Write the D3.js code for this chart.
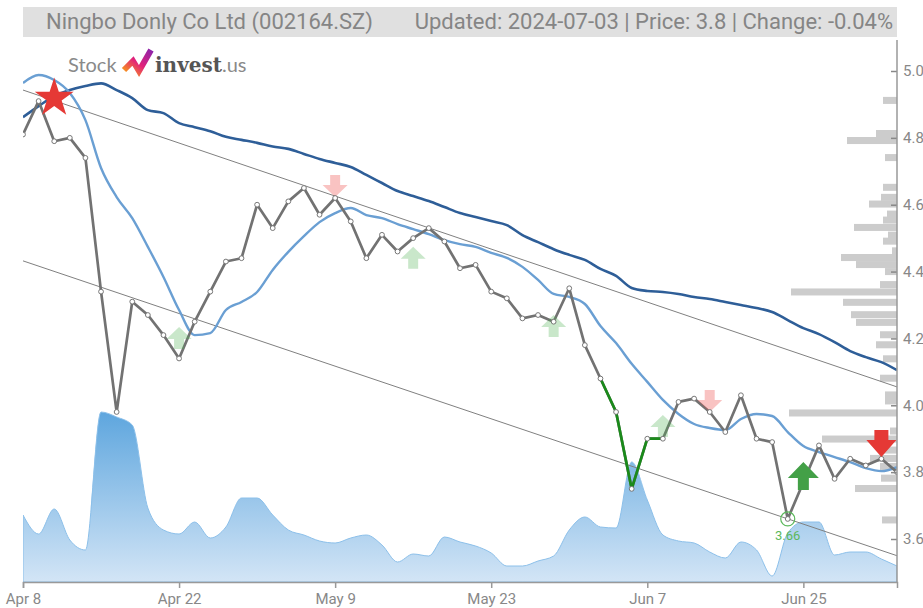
<!DOCTYPE html>
<html><head><meta charset="utf-8">
<script src="https://cdn.jsdelivr.net/npm/d3@7/dist/d3.min.js"></script>
<style>body{margin:0;background:#fff;} svg{display:block;}</style>
</head><body><svg id="c" width="923" height="608"></svg>
<script>
// ---------- DATA ----------
const dates = ["2024-04-08","2024-04-09","2024-04-10","2024-04-11","2024-04-12","2024-04-15","2024-04-16","2024-04-17","2024-04-18","2024-04-19",
"2024-04-22","2024-04-23","2024-04-24","2024-04-25","2024-04-26","2024-04-29","2024-04-30","2024-05-06","2024-05-07","2024-05-08",
"2024-05-09","2024-05-10","2024-05-13","2024-05-14","2024-05-15","2024-05-16","2024-05-17","2024-05-20","2024-05-21","2024-05-22",
"2024-05-23","2024-05-24","2024-05-27","2024-05-28","2024-05-29","2024-05-30","2024-05-31","2024-06-03","2024-06-04","2024-06-05",
"2024-06-07","2024-06-11","2024-06-12","2024-06-13","2024-06-14","2024-06-17","2024-06-18","2024-06-19","2024-06-20","2024-06-21",
"2024-06-25","2024-06-26","2024-06-27","2024-06-28","2024-07-01","2024-07-02","2024-07-03"];
const prices = [4.81,4.91,4.79,4.80,4.74,4.34,3.98,4.31,4.27,4.21,
4.14,4.25,4.34,4.43,4.44,4.60,4.53,4.61,4.65,4.57,
4.62,4.55,4.44,4.51,4.46,4.50,4.53,4.49,4.41,4.42,
4.34,4.32,4.26,4.27,4.25,4.35,4.18,4.08,3.98,3.75,
3.90,3.90,4.01,4.02,3.98,3.92,4.03,3.90,3.89,3.66,
3.77,3.88,3.78,3.84,3.82,3.84,3.80];
const maShort = [4.964,4.988,4.973,4.934,4.853,4.71,4.623,4.56,4.474,4.384,
4.285,4.21,4.216,4.285,4.309,4.339,4.405,4.459,4.506,4.548,
4.575,4.59,4.569,4.56,4.542,4.527,4.512,4.494,4.482,4.474,
4.456,4.441,4.414,4.375,4.333,4.324,4.303,4.237,4.186,4.124,
4.07,4.016,3.974,3.944,3.932,3.926,3.959,3.974,3.968,3.92,
3.878,3.86,3.845,3.83,3.812,3.803,3.815];
const maLong = [4.862,4.895,4.925,4.943,4.955,4.963,4.943,4.919,4.883,4.874,
4.844,4.832,4.82,4.803,4.794,4.785,4.774,4.767,4.752,4.737,
4.725,4.713,4.689,4.665,4.641,4.626,4.611,4.593,4.575,4.563,
4.551,4.539,4.509,4.488,4.467,4.45,4.435,4.408,4.387,4.351,
4.342,4.339,4.333,4.324,4.318,4.309,4.30,4.291,4.279,4.255,
4.231,4.213,4.189,4.162,4.144,4.129,4.105];
const volumes = [67,48,73,42,32,170,165,157,74,52,
48,60,44,55,84,84,67,52,47,41,
39,44,47,37,20,28,26,45,40,36,
29,16,16,21,26,52,65,55,54,120,
82,47,41,39,30,24,40,32,6,49,
60,60,27,30,30,23,16];
const tickDates = ["2024-04-08","2024-04-22","2024-05-09","2024-05-23","2024-06-07","2024-06-25"];
const priceTicks = [3.6,3.8,4.0,4.2,4.4,4.6,4.8,5.0];
const profilePrices = [4.912,4.813,4.792,4.741,4.652,4.622,4.602,4.572,4.554,4.532,4.509,4.491,4.462,4.442,4.421,4.400,
4.361,4.339,4.308,4.271,4.248,4.211,4.181,4.139,4.081,4.031,4.013,3.977,3.923,3.899,3.866,3.841,3.817,3.782,3.751,3.657];
const profileVolumes = [14,21,50,12,14,16,28,10,14,43,9,14,5,56,41,12,
17,106,54,46,41,17,21,14,17,12,12,108,7,75,17,27,17,16,42,15];
const trendUpper = [4.943, 4.055];
const trendLower = [4.432, 3.55];
const greenRun = [37, 41];
const buyWeakIdx = [10,25,34,41], buyWeakTip = [4.234,4.474,4.27,3.971];
const sellWeakIdx = [20,44], sellWeakTip = [4.623,3.98];
const buyStrongIdx = [50], buyStrongTip = [3.83];
const sellStrongIdx = [55], sellStrongTip = [3.845];
const starIdx = 2, starPrice = 4.922;
const lowIdx = 49, lowLabel = "3.66";
const title = "Ningbo Donly Co Ltd (002164.SZ)";
const info = "Updated: 2024-07-03 | Price: 3.8 | Change: -0.04%";

// ---------- SCALES ----------
const L = 23, R = 897, T = 40, B = 582;
const svg = d3.select("#c");
const x = d3.scalePoint().domain(dates).range([L, R]);
const y = d3.scaleLinear().domain([3.6, 5.0]).range([539, 71]);
const vy = d3.scaleLinear().domain([0, 175]).range([B, B - 175]);
const px = d3.scaleLinear().domain([0, 110]).range([R, R - 110]);

const defs = svg.append("defs");
defs.append("clipPath").attr("id","clip").append("rect").attr("x",L).attr("y",T).attr("width",R-L).attr("height",B-T);
const g1 = defs.append("linearGradient").attr("id","vg").attr("x1",0).attr("y1",0).attr("x2",0).attr("y2",1);
g1.append("stop").attr("offset","0%").attr("stop-color","#5ea6de");
g1.append("stop").attr("offset","100%").attr("stop-color","#d3e5f6");
const g2 = defs.append("linearGradient").attr("id","lg").attr("x1",0).attr("y1",1).attr("x2",1).attr("y2",0);
g2.append("stop").attr("offset","0%").attr("stop-color","#f7941d");
g2.append("stop").attr("offset","45%").attr("stop-color","#e2227a");
g2.append("stop").attr("offset","100%").attr("stop-color","#8e24aa");

// header
svg.append("rect").attr("x",23).attr("y",7).attr("width",874).attr("height",30).attr("fill","#e0e0e0");
svg.append("text").attr("x",46).attr("y",29).attr("font-family","Roboto, Arial, sans-serif").attr("font-size",22)
  .attr("fill","#858585").text(title);
svg.append("text").attr("x",893).attr("y",29).attr("text-anchor","end").attr("font-family","Roboto, Arial, sans-serif").attr("font-size",22)
  .attr("fill","#858585").text(info);

const plot = svg.append("g").attr("clip-path","url(#clip)");

// volume area
plot.append("path").datum(volumes)
  .attr("d", d3.area().x((d,i)=>x(dates[i])).y0(B).y1(d=>vy(d)).curve(d3.curveMonotoneX))
  .attr("fill","url(#vg)").attr("stroke","#8cc0ea").attr("stroke-width",1);

// volume profile
plot.selectAll("rect.vp").data(profilePrices).join("rect").attr("class","vp")
  .attr("x",(d,i)=>px(profileVolumes[i])).attr("width",(d,i)=>R-px(profileVolumes[i]))
  .attr("y",d=>y(d+0.0105)).attr("height",d=>y(d-0.0105)-y(d+0.0105))
  .attr("fill","#cccccc");

// trend lines
[trendUpper, trendLower].forEach(t=>{
  plot.append("line").attr("x1",x(dates[0])).attr("x2",x(dates[dates.length-1]))
    .attr("y1",y(t[0])).attr("y2",y(t[1])).attr("stroke","#808080").attr("stroke-width",1);
});

// moving averages
const ln = d3.line().x((d,i)=>x(dates[i])).y(d=>y(d)).curve(d3.curveMonotoneX);
plot.append("path").datum(maLong).attr("d",ln).attr("fill","none").attr("stroke","#2e5e98").attr("stroke-width",2.6);
plot.append("path").datum(maShort).attr("d",ln).attr("fill","none").attr("stroke","#6a9fd3").attr("stroke-width",2.4);

// price line
const pl = d3.line().x(d=>x(dates[d])).y(d=>y(prices[d]));
plot.append("path").datum(d3.range(prices.length)).attr("d",pl).attr("fill","none").attr("stroke","#727272").attr("stroke-width",2.7).attr("stroke-linejoin","round");
plot.append("path").datum(d3.range(greenRun[0], greenRun[1]+1)).attr("d",pl).attr("fill","none").attr("stroke","#1a8a1a").attr("stroke-width",2.7);

// arrows
function arrow(cx, tip, dir, W, H, hh, sw){
  const s = dir; // 1 = up (tip at top), -1 = down
  const p = [[cx,tip],[cx+W/2,tip+s*hh],[cx+sw/2,tip+s*hh],[cx+sw/2,tip+s*H],[cx-sw/2,tip+s*H],[cx-sw/2,tip+s*hh],[cx-W/2,tip+s*hh]];
  return "M"+p.map(q=>q.join(",")).join("L")+"Z";
}
buyWeakIdx.forEach((d,i)=>plot.append("path").attr("d",arrow(x(dates[d]),y(buyWeakTip[i]),1,25,22,12,10)).attr("fill","#4caf50").attr("opacity",0.3));
sellWeakIdx.forEach((d,i)=>plot.append("path").attr("d",arrow(x(dates[d]),y(sellWeakTip[i]),-1,25,22,12,10)).attr("fill","#ef5350").attr("opacity",0.35));

// price points
plot.selectAll("circle.pt").data(prices).join("circle").attr("class","pt")
  .attr("cx",(d,i)=>x(dates[i])).attr("cy",d=>y(d)).attr("r",2.4)
  .attr("fill","#fff").attr("stroke","#777").attr("stroke-width",1);

buyStrongIdx.forEach((d,i)=>plot.append("path").attr("d",arrow(x(dates[d]),y(buyStrongTip[i]),1,31,28,16,11)).attr("fill","#43a047"));
sellStrongIdx.forEach((d,i)=>plot.append("path").attr("d",arrow(x(dates[d]),y(sellStrongTip[i]),-1,30,27,17,14)).attr("fill","#e53935"));

// star
plot.append("path").attr("d",d3.symbol(d3.symbolStar).size(470)()).attr("transform",`translate(${x(dates[starIdx])},${y(starPrice)+1})`).attr("fill","#e53935");

// low circle
plot.append("circle").attr("cx",x(dates[lowIdx])).attr("cy",y(prices[lowIdx])).attr("r",7).attr("fill","none").attr("stroke","#5cb85c").attr("stroke-width",1.2);
svg.append("text").attr("x",x(dates[lowIdx])).attr("y",y(prices[lowIdx])+21).attr("text-anchor","middle")
  .attr("font-family","Roboto, Arial, sans-serif").attr("font-size",13).attr("fill","#5cb85c").text(lowLabel);

// axes
const fmtDate = d3.timeFormat("%b %-d"), parse = d3.timeParse("%Y-%m-%d");
const xa = svg.append("g").attr("transform",`translate(0,${B})`)
  .call(d3.axisBottom(x).tickValues(tickDates).tickFormat(d=>fmtDate(parse(d))).tickSizeOuter(0).tickSize(6).tickPadding(5));
xa.select(".domain").attr("stroke","#999").attr("stroke-width",1.5);
xa.selectAll(".tick line").attr("stroke","#999").attr("stroke-width",1.5);
xa.selectAll("text").attr("font-family","Roboto, Arial, sans-serif").attr("font-size",15).attr("fill","#888");

const ya = svg.append("g").attr("transform",`translate(${R},0)`)
  .call(d3.axisRight(y).tickValues(priceTicks).tickFormat(d3.format(".1f")).tickSizeInner(-6).tickSizeOuter(0).tickPadding(6));
ya.select(".domain").remove();
ya.append("line").attr("x1",0).attr("x2",0).attr("y1",T).attr("y2",B).attr("stroke","#999").attr("stroke-width",1.5);
ya.selectAll(".tick line").attr("stroke","#888").attr("stroke-width",1.5);
ya.selectAll("text").attr("font-family","Roboto, Arial, sans-serif").attr("font-size",15).attr("fill","#888");

// logo
const logo = svg.append("g");
logo.append("text").attr("x",68).attr("y",72).attr("font-family","Lato, sans-serif").attr("font-size",20).attr("fill","#8a8a8a").text("Stock");
logo.append("path").attr("d","M124,70 L133,61 L139,71 L151,50").attr("fill","none").attr("stroke","url(#lg)").attr("stroke-width",6).attr("stroke-linejoin","miter").attr("stroke-linecap","butt");
const t2 = logo.append("text").attr("x",155).attr("y",72).attr("font-size",20);
t2.append("tspan").attr("font-family","DejaVu Serif, serif").attr("font-weight","bold").attr("fill","#555").text("invest");
t2.append("tspan").attr("font-family","Lato, sans-serif").attr("font-size",20).attr("fill","#8a8a8a").text(".us");
</script></body></html>
